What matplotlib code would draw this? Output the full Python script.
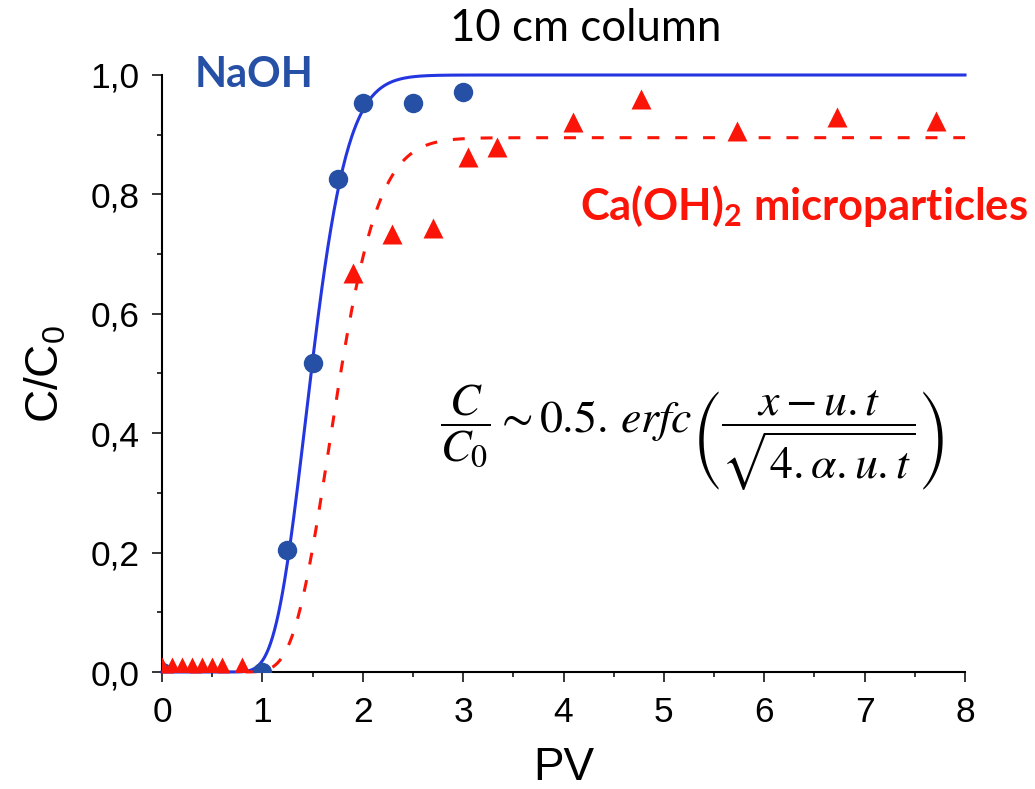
import numpy as np
import matplotlib
matplotlib.use("Agg")
import matplotlib.pyplot as plt
from matplotlib.ticker import MultipleLocator, FuncFormatter
from math import erfc

# Breakthrough data (pore volumes vs relative concentration)
naoh_pv = [0.0, 1.0, 1.25, 1.5, 1.75, 2.0, 2.5, 3.0]
naoh_c = [0.0, 0.0, 0.204, 0.517, 0.826, 0.953, 0.953, 0.972]

caoh_pv = [0.0, 0.1, 0.2, 0.3, 0.4, 0.5, 0.6, 0.8, 1.9, 2.29, 2.7, 3.05, 3.34,
           4.09, 4.77, 5.73, 6.72, 7.71]
caoh_c = [0.008, 0.008, 0.008, 0.008, 0.008, 0.008, 0.008, 0.008, 0.668, 0.734,
          0.744, 0.863, 0.879, 0.922, 0.959, 0.906, 0.930, 0.923]

# Advection-dispersion fits: plateau, breakthrough PV, dispersion factor
naoh_fit = (1.0, 1.485, 0.33)
caoh_fit = (0.895, 1.729, 0.359)

x_ticks = [0, 1, 2, 3, 4, 5, 6, 7, 8]
y_ticks = [0.0, 0.2, 0.4, 0.6, 0.8, 1.0]


def ade_curve(pv, plateau, mid, disp):
    pv = np.asarray(pv, dtype=float)
    out = np.zeros_like(pv)
    for i, p in enumerate(pv):
        if p <= 0:
            out[i] = 0.0
        else:
            out[i] = plateau * 0.5 * erfc((mid - p) / (disp * np.sqrt(p)))
    return out


W, H, DPI = 1035, 789, 100
fig = plt.figure(figsize=(W / DPI, H / DPI), dpi=DPI)
ax = fig.add_axes([162 / W, 1 - 672 / H, 803 / W, 597 / H])

blue_line = "#2336E0"
blue_pt = "#2550A6"
red = "#FA1508"

pv = np.linspace(0, 8, 800)
ax.plot(pv, ade_curve(pv, *naoh_fit), color=blue_line, lw=2.2, zorder=3,
        clip_on=False)
ax.plot(pv, ade_curve(pv, *caoh_fit), color=red, lw=2.2, dashes=(3.9, 5.2),
        zorder=3, clip_on=False)

ax.plot(naoh_pv, naoh_c, "o", color=blue_pt, ms=14, mec="none", zorder=4)
ax.plot(caoh_pv, caoh_c, "^", color=red, ms=15, mec="none", zorder=4)

ax.set_xlim(0, 8)
ax.set_ylim(0, 1.0)
for s in ("top", "right"):
    ax.spines[s].set_visible(False)
for s in ("left", "bottom"):
    ax.spines[s].set_linewidth(1.5)

ax.set_xticks(x_ticks)
ax.set_yticks(y_ticks)
ax.xaxis.set_minor_locator(MultipleLocator(0.5))
ax.yaxis.set_minor_locator(MultipleLocator(0.1))
ax.yaxis.set_major_formatter(FuncFormatter(lambda v, _: f"{v:.1f}".replace(".", ",")))
ax.tick_params(which="major", length=7.2, width=1.1, direction="out",
               labelsize=25.5)
ax.tick_params(axis="x", which="major", pad=10)
ax.tick_params(axis="y", which="major", pad=9)
ax.tick_params(which="minor", length=3.6, width=1.1, direction="out")
for lab in ax.get_xticklabels() + ax.get_yticklabels():
    lab.set_fontfamily("Liberation Sans")

ax.set_xlabel("PV", fontfamily="Liberation Sans", fontsize=33, labelpad=12)
ax.set_ylabel(r"C/C$_\mathregular{0}$", fontfamily="Liberation Sans",
              fontsize=33, labelpad=16)

fig.text(586 / W, 1 - 41 / H, "10 cm column", ha="center", va="baseline",
         fontfamily="Lato", fontsize=31.5)
fig.text(195 / W, 1 - 87 / H, "NaOH", ha="left", va="baseline",
         fontfamily="Lato", fontweight="bold", fontsize=30, color=blue_pt)
fig.text(580 / W, 1 - 220 / H, r"Ca(OH)$_\mathregular{2}$ microparticles",
         ha="left", va="baseline", fontfamily="Lato", fontweight="bold",
         fontsize=31.3, color=red)

fig.text(692 / W, 1 - 437 / H,
         r"$\dfrac{C}{C_0}\sim 0.5.\,erfc\left(\dfrac{x-u.t}{\sqrt{4.\alpha.u.t}}\right)$",
         ha="center", va="center", fontsize=33, math_fontfamily="stix")

fig.savefig("out.png", dpi=DPI)
